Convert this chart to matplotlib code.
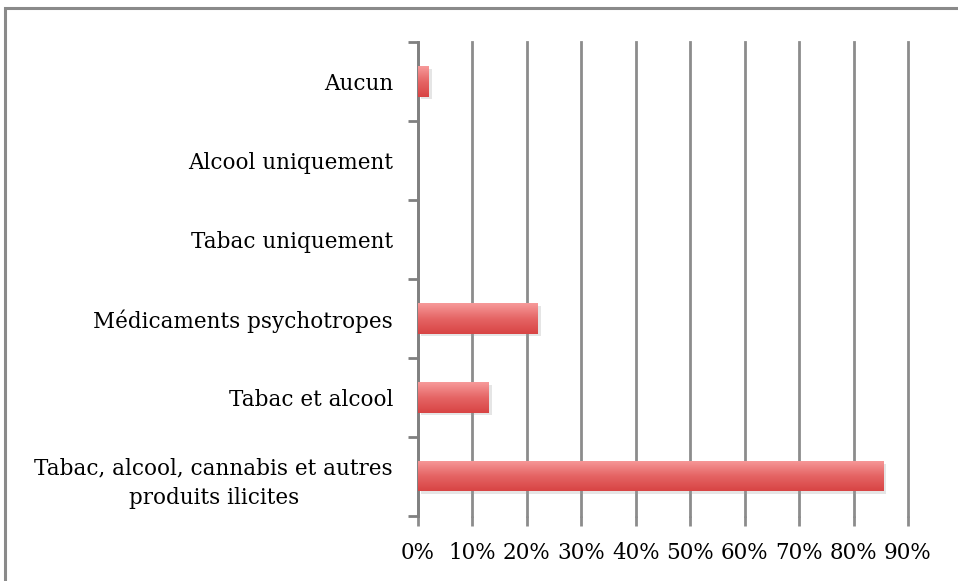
import matplotlib
matplotlib.use("Agg")
import matplotlib.pyplot as plt
import matplotlib.patheffects as pe
from matplotlib.patches import Rectangle
from matplotlib.colors import LinearSegmentedColormap
import numpy as np

# categories bottom -> top, share of respondents (%)
CATS = ["Tabac, alcool, cannabis et autres\nproduits ilicites",
        "Tabac et alcool",
        "Médicaments psychotropes",
        "Tabac uniquement",
        "Alcool uniquement",
        "Aucun"]
VALS = [85.5, 13, 22, 0, 0, 2]
XTICKS = [0, 10, 20, 30, 40, 50, 60, 70, 80, 90]
XLABS = [f"{t}%" for t in XTICKS]

plt.rcParams["font.family"] = ["DejaVu Serif"]

fig = plt.figure(figsize=(9.58, 5.81), dpi=100)
# outer frame like the pasted Excel chart
fig.patches.append(Rectangle((0.005, -0.05), 1.2, 1.036, transform=fig.transFigure,
                             fill=False, edgecolor="#8a8a8a", lw=2.2))
ax = fig.add_axes([0.4363, 0.1119, 0.5115, 0.8158])

y = np.arange(len(CATS))
bars = ax.barh(y, VALS, height=0.38, color="#e35f5f", lw=0, zorder=3,
               path_effects=[pe.SimplePatchShadow(offset=(2, -2), shadow_rgbFace="#999999", alpha=0.25),
                             pe.Normal()])

grad = LinearSegmentedColormap.from_list("g", ["#d84444", "#e56565", "#f79a9a"])
for b in bars:
    if b.get_width() <= 0:
        continue
    x0, y0, w, h = b.get_x(), b.get_y(), b.get_width(), b.get_height()
    im = ax.imshow(np.linspace(0, 1, 64).reshape(-1, 1), cmap=grad, aspect="auto",
                   origin="lower", extent=(x0, x0 + w, y0, y0 + h), zorder=4)
    im.set_clip_path(b)

ax.set_xlim(0, 90)
ax.set_ylim(-0.5, len(CATS) - 0.5)
ax.set_xticks(XTICKS)
ax.set_xticklabels(XLABS, fontsize=15.5)
ax.set_yticks(y)
ax.set_yticklabels(CATS, fontsize=15.5, multialignment="center", linespacing=1.45)
ax.set_yticks(np.arange(-0.5, len(CATS)), minor=True)
ax.tick_params(axis="y", which="major", length=0, pad=18)
ax.tick_params(axis="y", which="minor", length=7, width=2, color="#808080", direction="out")
ax.tick_params(axis="x", length=7, width=2, color="#8c8c8c", direction="out", pad=12)

ax.grid(True, axis="x", color="#8c8c8c", lw=2, zorder=0)
for gl in ax.get_xgridlines():
    gl.set_clip_on(False)
ax.set_axisbelow(True)
for s in ["top", "right", "bottom"]:
    ax.spines[s].set_visible(False)
ax.spines["left"].set_color("#808080")
ax.spines["left"].set_linewidth(2)

fig.savefig("out.png", dpi=100)
